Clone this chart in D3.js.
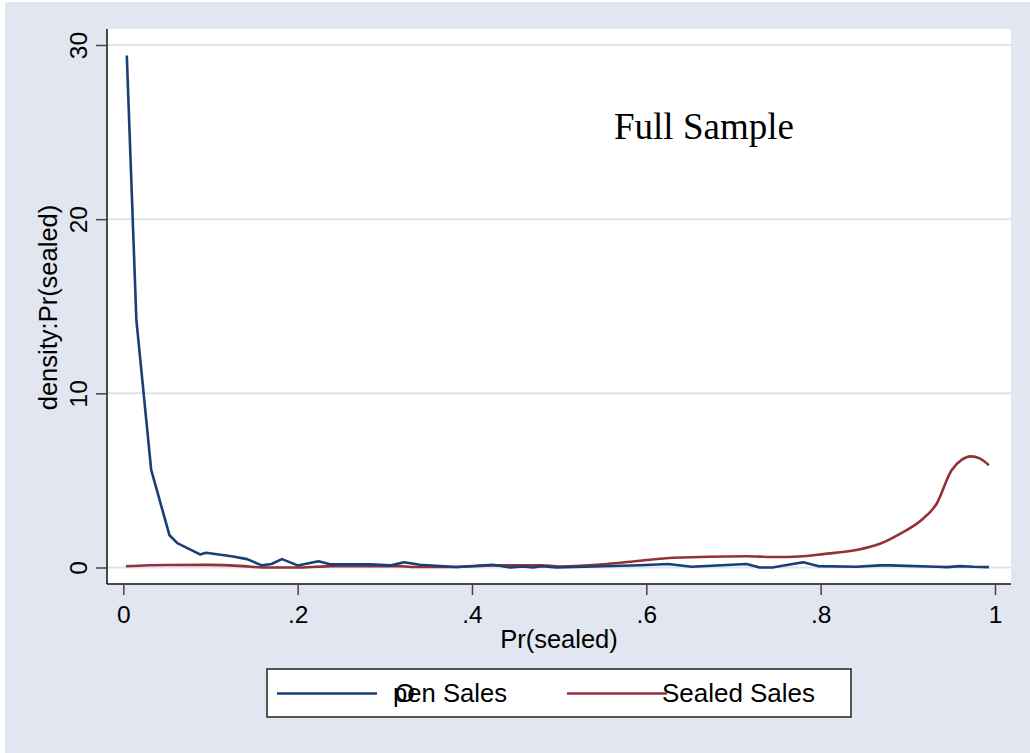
<!DOCTYPE html>
<html><head><meta charset="utf-8">
<script src="https://cdn.jsdelivr.net/npm/d3@7"></script>
<style>html,body{margin:0;padding:0;background:#fff;}svg{display:block;}</style>
</head><body>
<svg id="c" width="1030" height="753"></svg>
<script>
// Data
const openX = [0.004,0.015,0.032,0.053,0.062,0.088,0.095,0.124,0.142,0.159,0.17,0.182,0.2,0.224,0.237,0.283,0.306,0.322,0.34,0.382,0.424,0.444,0.459,0.47,0.48,0.497,0.593,0.625,0.652,0.715,0.73,0.746,0.78,0.797,0.841,0.868,0.88,0.933,0.945,0.96,0.975,0.993];
const openY = [29.4,14.2,5.6,1.85,1.4,0.75,0.85,0.65,0.48,0.12,0.2,0.48,0.12,0.36,0.18,0.18,0.12,0.3,0.16,0.03,0.16,0.0,0.06,0.0,0.07,0.0,0.13,0.2,0.04,0.2,0.0,0.01,0.3,0.08,0.04,0.12,0.12,0.04,0.02,0.08,0.04,0.02];
const sealedX = [0.003,0.05,0.096,0.138,0.16,0.203,0.24,0.317,0.33,0.38,0.424,0.48,0.5,0.555,0.593,0.631,0.715,0.746,0.78,0.803,0.841,0.868,0.891,0.916,0.933,0.95,0.962,0.972,0.983,0.993];
const sealedY = [0.07,0.14,0.15,0.08,0.0,0.0,0.08,0.08,0.03,0.03,0.12,0.13,0.06,0.2,0.39,0.56,0.65,0.6,0.65,0.77,1.0,1.36,1.93,2.74,3.66,5.57,6.19,6.38,6.25,5.87];
const xTicks = [0,0.2,0.4,0.6,0.8,1];
const xTickLabels = ["0",".2",".4",".6",".8","1"];
const yTicks = [0,10,20,30];
const seriesNames = ["Open Sales","Sealed Sales"];

const svg = d3.select("#c");
const bg = "#e1e6f0";
svg.append("rect").attr("x",5).attr("y",2).attr("width",1025).attr("height",751).attr("fill",bg);

const L=107, R=1011, T=29, B=584;
svg.append("rect").attr("x",L).attr("y",T).attr("width",R-L).attr("height",B-T).attr("fill","#fff");

const x = d3.scaleLinear().domain([0,1]).range([123.3,995]);
const y = d3.scaleLinear().domain([0,30]).range([567.5,45]);
const ff = "Liberation Sans, Arial, sans-serif";

// gridlines
svg.append("g").selectAll("line").data(yTicks).join("line")
  .attr("x1",L).attr("x2",R).attr("y1",d=>y(d)).attr("y2",d=>y(d))
  .attr("stroke","#dde3ef").attr("stroke-width",2);

// axes
const yAxis = d3.axisLeft(y).tickValues(yTicks).tickSize(11).tickFormat(d3.format("d"));
const gy = svg.append("g").attr("transform",`translate(${L},0)`).call(yAxis);
gy.select(".domain").attr("d",`M0,${T}V${B}`).attr("stroke","#111").attr("stroke-width",1.5);
gy.selectAll(".tick line").attr("stroke","#444").attr("stroke-width",1.5);
gy.selectAll(".tick text").attr("font-family",ff).attr("font-size",24.5).attr("fill","#000")
  .attr("text-anchor","middle").attr("dy",0).attr("x",0)
  .attr("transform","translate(-20,0) rotate(-90)");

const xAxis = d3.axisBottom(x).tickValues(xTicks).tickSize(11).tickFormat((d,i)=>xTickLabels[i]);
const gx = svg.append("g").attr("transform",`translate(0,${B})`).call(xAxis);
gx.select(".domain").attr("d",`M${L},0H${R}`).attr("stroke","#111").attr("stroke-width",1.5);
gx.selectAll(".tick line").attr("stroke","#444").attr("stroke-width",1.5);
gx.selectAll(".tick text").attr("font-family",ff).attr("font-size",24.5).attr("fill","#000")
  .attr("dy",0).attr("y",39);

// axis titles
svg.append("text").attr("transform",`translate(57,${(T+B)/2+1}) rotate(-90)`).attr("text-anchor","middle")
  .attr("font-family",ff).attr("font-size",25.5).text("density:Pr(sealed)");
svg.append("text").attr("x",(L+R)/2).attr("y",648).attr("text-anchor","middle")
  .attr("font-family",ff).attr("font-size",25.5).text("Pr(sealed)");

// lines
const openData = openX.map((v,i)=>[v,openY[i]]);
const sealedData = sealedX.map((v,i)=>[v,sealedY[i]]);
const blue="#1a3f73", red="#943138";
svg.append("path").datum(sealedData).attr("d",d3.line().x(d=>x(d[0])).y(d=>y(d[1])).curve(d3.curveMonotoneX)).attr("fill","none").attr("stroke",red).attr("stroke-width",2.6);
svg.append("path").datum(openData).attr("d",d3.line().x(d=>x(d[0])).y(d=>y(d[1]))).attr("fill","none").attr("stroke",blue).attr("stroke-width",2.6).attr("stroke-linejoin","round");

// annotation
svg.append("text").attr("x",614).attr("y",139).attr("font-family","Liberation Serif, Times New Roman, serif").attr("font-size",37).text("Full Sample");

// legend
svg.append("rect").attr("x",267).attr("y",669).attr("width",584).attr("height",48).attr("fill","#fff").attr("stroke","#222").attr("stroke-width",1.5);
const ly = 693.5;
svg.append("line").attr("x1",277).attr("x2",377).attr("y1",ly).attr("y2",ly).attr("stroke",blue).attr("stroke-width",2.6);
svg.append("line").attr("x1",567).attr("x2",667).attr("y1",ly).attr("y2",ly).attr("stroke",red).attr("stroke-width",2.6);
svg.append("text").attr("x",393).attr("y",702).attr("font-family",ff).attr("font-size",25.5).attr("textLength",114).attr("lengthAdjust","spacingAndGlyphs").text(seriesNames[0].slice(1));
svg.append("text").attr("x",395).attr("y",702).attr("font-family",ff).attr("font-size",25.5).text(seriesNames[0].slice(0,1));
svg.append("text").attr("x",662).attr("y",702).attr("font-family",ff).attr("font-size",25.5).attr("textLength",153).attr("lengthAdjust","spacingAndGlyphs").text(seriesNames[1]);
</script>
</body></html>
